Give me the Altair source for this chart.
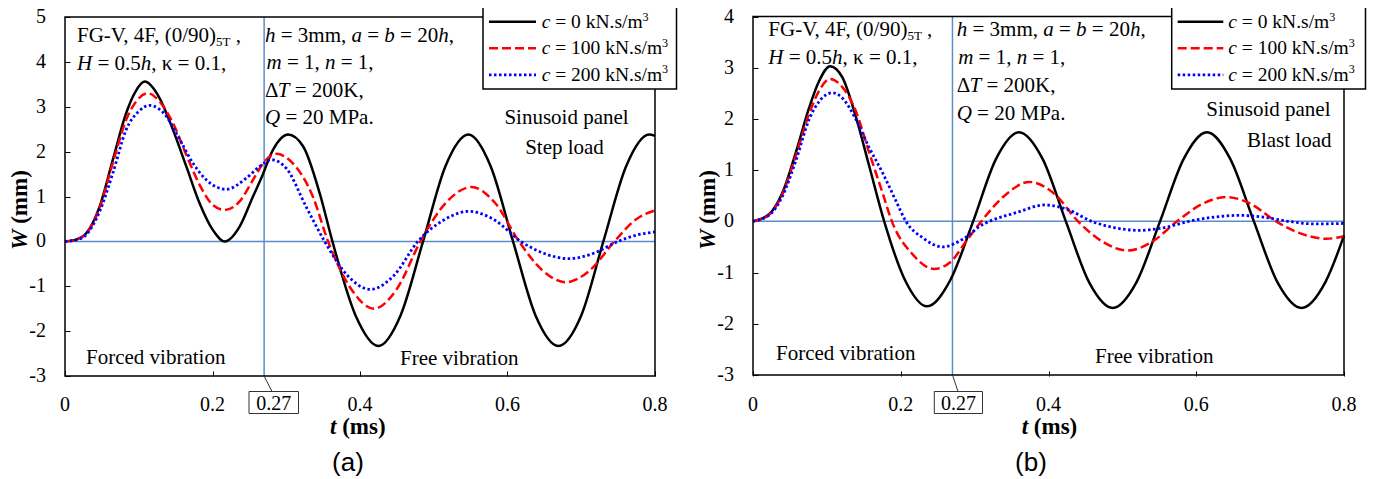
import altair as alt
import pandas as pd

# ---------------- values ----------------
# Panel (a): sinusoid panel, step load
ta_c0 = [0, 0.015, 0.0288, 0.0468, 0.0649, 0.083, 0.095, 0.108, 0.128, 0.1463, 0.1645, 0.1825, 0.2006, 0.2165,
         0.2368, 0.2549, 0.2662, 0.282, 0.3024, 0.3228, 0.3454, 0.3626, 0.394, 0.425, 0.455, 0.4855, 0.516, 0.547,
         0.577, 0.6075, 0.638, 0.669, 0.70, 0.730, 0.761, 0.792, 0.8]
wa_c0 = [0, 0.04, 0.18, 0.77, 1.82, 2.86, 3.32, 3.56, 3.20, 2.49, 1.67, 0.85, 0.25, 0.0,
         0.33, 1.0, 1.41, 2.04, 2.38, 2.12, 1.07, 0.0, -1.65, -2.33, -1.65, 0.0, 1.68, 2.38,
         1.68, 0.0, -1.65, -2.33, -1.65, 0.0, 1.68, 2.38, 2.35]
ta_c100 = [0, 0.015, 0.0288, 0.0468, 0.0649, 0.083, 0.098, 0.1124, 0.128, 0.1463, 0.1645, 0.1825, 0.2006, 0.2165,
           0.2368, 0.2549, 0.2685, 0.2866, 0.309, 0.336, 0.3567, 0.388, 0.419, 0.45, 0.482, 0.5165, 0.551, 0.583,
           0.6156, 0.647, 0.679, 0.712, 0.745, 0.775, 0.8]
wa_c100 = [0, 0.04, 0.17, 0.74, 1.75, 2.71, 3.15, 3.30, 3.12, 2.64, 1.93, 1.26, 0.81, 0.70,
           0.89, 1.37, 1.74, 1.95, 1.74, 1.0, 0.0, -1.06, -1.50, -1.06, 0.0, 0.86, 1.21, 0.86,
           0.0, -0.64, -0.91, -0.64, 0.0, 0.50, 0.69]
ta_c200 = [0, 0.015, 0.0288, 0.0468, 0.0649, 0.083, 0.1, 0.1147, 0.1373, 0.1555, 0.1736, 0.1917, 0.2188, 0.2459,
           0.264, 0.2798, 0.300, 0.327, 0.352, 0.383, 0.414, 0.446, 0.4785, 0.513, 0.548, 0.583, 0.618, 0.65,
           0.683, 0.716, 0.75, 0.775, 0.8]
wa_c200 = [0, 0.03, 0.15, 0.66, 1.52, 2.49, 2.9, 3.03, 2.79, 2.27, 1.74, 1.37, 1.16, 1.41,
           1.67, 1.82, 1.63, 0.77, 0.0, -0.76, -1.07, -0.76, 0.0, 0.47, 0.67, 0.47, 0.0, -0.27,
           -0.385, -0.27, 0.0, 0.14, 0.21]

# Panel (b): sinusoid panel, blast load
tb_c0 = [0, 0.0217, 0.0398, 0.0579, 0.076, 0.0895, 0.1044, 0.121, 0.1393, 0.1573, 0.1776, 0.2065, 0.2355, 0.267,
         0.298, 0.329, 0.360, 0.392, 0.4235, 0.455, 0.487, 0.519, 0.551, 0.583, 0.6145, 0.646, 0.678, 0.710,
         0.7425, 0.775, 0.8]
wb_c0 = [0, 0.14, 0.56, 1.34, 2.22, 2.74, 3.03, 2.81, 2.04, 1.08, 0.0, -1.17, -1.66, -1.15,
         0.0, 1.22, 1.74, 1.22, 0.0, -1.19, -1.69, -1.19, 0.0, 1.22, 1.74, 1.22, 0.0, -1.19,
         -1.69, -1.18, -0.28]
tb_c100 = [0, 0.0217, 0.0398, 0.0579, 0.076, 0.0895, 0.1044, 0.121, 0.1393, 0.1573, 0.1753, 0.188, 0.2165, 0.245,
           0.267, 0.288, 0.309, 0.342, 0.374, 0.407, 0.44, 0.4735, 0.507, 0.54, 0.574, 0.6075, 0.641, 0.6745,
           0.708, 0.742, 0.776, 0.8]
wb_c100 = [0, 0.13, 0.53, 1.28, 2.10, 2.55, 2.78, 2.62, 2.15, 1.34, 0.56, 0.0, -0.65, -0.93,
           -0.80, -0.40, 0.0, 0.52, 0.77, 0.55, 0.0, -0.40, -0.57, -0.40, 0.0, 0.335, 0.475, 0.335,
           0.0, -0.24, -0.34, -0.29]
tb_c200 = [0, 0.0217, 0.0398, 0.0579, 0.076, 0.09, 0.1076, 0.1215, 0.1393, 0.1573, 0.1753, 0.1935, 0.207, 0.2296,
           0.2567, 0.2838, 0.311, 0.32, 0.3562, 0.395, 0.426, 0.4585, 0.49, 0.523, 0.556, 0.59, 0.624, 0.6575,
           0.691, 0.725, 0.76, 0.8]
wb_c200 = [0, 0.12, 0.49, 1.18, 1.99, 2.35, 2.51, 2.40, 1.99, 1.44, 0.95, 0.40, 0.0, -0.32,
           -0.50, -0.35, -0.06, 0.0, 0.17, 0.32, 0.23, 0.0, -0.125, -0.176, -0.125, 0.0, 0.083, 0.117,
           0.083, 0.0, -0.05, -0.04]

c_values = ["0", "100", "200"]
x_ticks = [0, 0.2, 0.4, 0.6, 0.8]
x_tick_labels = ["0", "0.2", "0.4", "0.6", "0.8"]
y_ticks_a = [-3, -2, -1, 0, 1, 2, 3, 4, 5]
y_ticks_b = [-3, -2, -1, 0, 1, 2, 3, 4]
t_switch = 0.27
t_end = 0.8

# ---------------- styling ----------------
SERIF = "Liberation Serif"
SANS = "Liberation Sans"
REF = "#5B8DCB"
COLORS = ["#000000", "#ff0000", "#0000ff"]
DASHES = [None, [9, 4], [2.5, 2.5]]
WIDTHS = [2.5, 2.5, 2.8]

X0, Y0 = 65, 17          # page position of the plot origin
PW, PH = 1279, 359

W_R = {' ': 250, ',': 250, '.': 250, '-': 333, '(': 333, ')': 333, '/': 278, '=': 564,
       'F': 556, 'G': 722, 'V': 722, 'H': 722, 'K': 722, 'M': 889, 'P': 556, 'T': 611, 'S': 556,
       'B': 667, 'N': 722, 'a': 444, 'b': 500, 'c': 444, 'd': 500, 'e': 444, 'h': 500, 'i': 278,
       'k': 500, 'l': 278, 'm': 778, 'n': 500, 'o': 500, 'p': 500, 'r': 333, 's': 389, 't': 278,
       'u': 500, 'v': 500, 'κ': 500, 'Δ': 612}
W_I = {'H': 722, 'h': 500, 'a': 500, 'b': 500, 'm': 722, 'n': 500, 'T': 556, 'Q': 722, 'c': 444}
W_B = {' ': 250, '(': 333, ')': 333, 'm': 833, 's': 389}
W_BI = {'W': 889, 't': 278}
TABLES = {"r": W_R, "sub": W_R, "sup": W_R, "i": W_I, "b": W_B, "bi": W_BI}
KERN = {"V,": -129, "F,": -80}

dummy = pd.DataFrame({"k": [0]})


def tw(s, st):
    tab = TABLES[st]
    tot = 0
    for i, ch in enumerate(s):
        if ch.isdigit():
            tot += 500
        else:
            tot += tab.get(ch, W_R.get(ch, 500))
        if i + 1 < len(s):
            tot += KERN.get(s[i:i + 2], 0)
    return tot / 1000.0


def txt(X, Y, s, size, style="normal", weight="normal", font=SERIF, align="left",
        baseline="alphabetic", angle=0):
    kw = dict(font=font, fontSize=size, fontStyle=style, fontWeight=weight, align=align,
              baseline=baseline, color="black")
    if angle:
        kw["angle"] = angle
    return alt.Chart(dummy).mark_text(**kw).encode(
        x=alt.value(X - X0), y=alt.value(Y - Y0), text=alt.value(s))


def rich(X, Y, parts, size, angle=0):
    out = []
    pos = 0.0
    for s, st in parts:
        fs = size * 0.62 if st in ("sub", "sup") else size
        shift = 0.2 * size if st == "sub" else (-0.36 * size if st == "sup" else 0.0)
        style = "italic" if st in ("i", "bi") else "normal"
        weight = "bold" if st in ("b", "bi") else "normal"
        lead = len(s) - len(s.lstrip(" "))
        core = s.strip(" ")
        off = pos + lead * tw(" ", st) * fs
        if angle == 270:
            px, py = X + shift, Y - off
        else:
            px, py = X + off, Y + shift
        out.append(txt(px, py, core, fs, style, weight, angle=angle))
        pos += tw(s, st) * fs
    return out


def box(x1, y1, x2, y2, stroke="black", sw=1.5):
    return alt.Chart(dummy).mark_rect(fill="white", stroke=stroke, strokeWidth=sw).encode(
        x=alt.value(x1 - X0), x2=alt.value(x2 - X0), y=alt.value(y1 - Y0), y2=alt.value(y2 - Y0))


def seg(x1, y1, x2, y2, color="black", sw=1.0, dash=None):
    kw = dict(color=color, strokeWidth=sw)
    if dash:
        kw["strokeDash"] = dash
    return alt.Chart(dummy).mark_rule(**kw).encode(
        x=alt.value(x1 - X0), x2=alt.value(x2 - X0), y=alt.value(y1 - Y0), y2=alt.value(y2 - Y0))


def panel(p):
    xs = alt.Scale(domain=[0, t_end], range=p["xr"], nice=False, zero=False)
    ys = alt.Scale(domain=p["yd"], range=p["yr"], nice=False, zero=False)
    common = dict(tickSize=5, tickColor="black", tickWidth=1, domain=False, grid=False,
                  labels=False, title=None)
    xaxis = alt.Axis(values=x_ticks, orient="bottom", offset=-5, **common)
    yaxis = alt.Axis(values=p["yticks"], orient="left", offset=-(p["xr"][0] + 5), **common)

    def X(f):
        return alt.X(f, scale=xs, axis=xaxis)

    def Y(f):
        return alt.Y(f, scale=ys, axis=yaxis)

    layers = []
    # reference lines (zero line, switch time)
    href = pd.DataFrame({"t0": [0.0], "t1": [t_end], "w0": [0.0]})
    layers.append(alt.Chart(href).mark_rule(color=REF, strokeWidth=1.5).encode(
        x=X("t0:Q"), x2="t1:Q", y=Y("w0:Q")))
    vref = pd.DataFrame({"ts": [t_switch], "w0": [p["yd"][0]], "w1": [p["yd"][1]]})
    layers.append(alt.Chart(vref).mark_rule(color=REF, strokeWidth=1.5).encode(
        x=X("ts:Q"), y=Y("w0:Q"), y2="w1:Q"))
    # curves
    for (t, w), col, dash, sw in zip(p["series"], COLORS, DASHES, WIDTHS):
        df = pd.DataFrame({"t": t, "w": w})
        kw = dict(color=col, strokeWidth=sw, interpolate="monotone")
        if dash:
            kw["strokeDash"] = dash
        layers.append(alt.Chart(df).mark_line(**kw).encode(x=X("t:Q"), y=Y("w:Q")))
    # frame
    fr = pd.DataFrame({"t0": [0.0], "t1": [t_end], "w0": [p["yd"][0]], "w1": [p["yd"][1]]})
    layers.append(alt.Chart(fr).mark_rect(fillOpacity=0, stroke="black", strokeWidth=1.5).encode(
        x=X("t0:Q"), x2="t1:Q", y=Y("w0:Q"), y2="w1:Q"))

    # tick labels (serif) placed through the panel scales
    xl = pd.DataFrame({"tv": x_ticks, "lab": x_tick_labels})
    layers.append(alt.Chart(xl).mark_text(font=SERIF, fontSize=20, color="black", align="center",
                                          baseline="alphabetic").encode(
        x=X("tv:Q"), y=alt.value(411 - Y0), text="lab:N"))
    yl = pd.DataFrame({"wv": p["yticks"], "lab": [str(v) for v in p["yticks"]]})
    layers.append(alt.Chart(yl).mark_text(font=SERIF, fontSize=20, color="black", align="right",
                                          baseline="middle").encode(
        x=alt.value(p["xr"][0] - 19), y=Y("wv:Q"), text="lab:N"))

    # annotations
    fs = 21
    lx, (lb1, lb2) = p["left_x"], p["left_b"]
    layers += rich(lx, lb1, [("FG-V, 4F, (0/90)", "r"), ("5T", "sub"), (" ,", "r")], fs)
    layers += rich(lx, lb2, [("H", "i"), (" = 0.5", "r"), ("h", "i"), (", κ = 0.1,", "r")], fs)
    rx, rb = p["right_x"], p["right_b"]
    layers += rich(rx, rb[0], [("h", "i"), (" = 3mm, ", "r"), ("a", "i"), (" = ", "r"), ("b", "i"),
                               (" = 20", "r"), ("h", "i"), (",", "r")], fs)
    layers += rich(rx + 1.5, rb[1], [("m", "i"), (" = 1, ", "r"), ("n", "i"), (" = 1,", "r")], fs)
    layers += rich(rx, rb[2], [("Δ", "r"), ("T", "i"), (" = 200K,", "r")], fs)
    layers += rich(rx, rb[3], [("Q", "i"), (" = 20 MPa.", "r")], fs)
    for s, cx, cb in zip(p["case"], p["case_x"], p["case_b"]):
        layers.append(txt(cx, cb, s, fs, align=p["case_align"]))
    layers.append(txt(p["forced"][0], p["forced"][1], "Forced vibration", fs))
    layers.append(txt(p["free"][0], p["free"][1], "Free vibration", fs))

    # legend
    bx1, by1, bx2, by2 = p["leg_box"]
    layers.append(box(bx1, by1, bx2, by2))
    lx1, lx2 = p["leg_line"]
    for i, (cv, col, dash, sw) in enumerate(zip(c_values, COLORS, DASHES, WIDTHS)):
        ly = 21.7 + 26.6 * i
        layers.append(seg(lx1, ly, lx2, ly, color=col, sw=sw, dash=dash))
        layers += rich(p["leg_text_x"], 27.7 + 26.4 * i,
                       [("c", "i"), (" = %s kN.s/m" % cv, "r"), ("3", "sup")], 19.5)

    # switch-time label
    k1, k2, k3, k4 = p["box027"]
    layers.append(seg(*p["lead"], color="#333333", sw=1))
    layers.append(box(k1, k2, k3, k4, stroke="#333333", sw=1))
    layers.append(txt((k1 + k3) / 2, 409.5, "0.27", 20, align="center"))

    # axis titles
    layers += rich(p["tms_x"], 433.5, [("t", "bi"), (" (ms)", "b")], 23)
    layers += rich(p["wmm_x"], 250, [("W", "bi"), (" (mm)", "b")], 23, angle=270)
    # panel label
    layers.append(txt(p["label_x"], 463, p["label"], 26, font=SANS, align="center", baseline="middle"))
    return alt.layer(*layers)


pa = dict(series=[(ta_c0, wa_c0), (ta_c100, wa_c100), (ta_c200, wa_c200)],
          xr=[0, 590], yd=[-3, 5], yr=[359, 0], yticks=y_ticks_a,
          left_x=77, left_b=[41.5, 69.5], right_x=265, right_b=[41.5, 69, 96.5, 123.5],
          case=("Sinusoid panel", "Step load"), case_align="center", case_x=[566.5, 564.5],
          case_b=[123.5, 153.5], forced=(86, 363.5), free=(400, 364.5),
          leg_box=(483, 7, 676.5, 89), leg_line=(489, 536), leg_text_x=541.7,
          box027=(249, 391.5, 298.5, 413.5), lead=(264.1, 376, 272, 391.5),
          tms_x=330, wmm_x=27, label="(a)", label_x=348)

pb = dict(series=[(tb_c0, wb_c0), (tb_c100, wb_c100), (tb_c200, wb_c200)],
          xr=[688, 1279], yd=[-3, 4], yr=[358, -0.5], yticks=y_ticks_b,
          left_x=768.3, left_b=[35.8, 63.5], right_x=956.7, right_b=[35.8, 63.5, 91.5, 119.5],
          case=("Sinusoid panel", "Blast load"), case_align="right", case_x=[1330.5, 1331.5],
          case_b=[115.5, 146.5], forced=(776, 360), free=(1095, 363),
          leg_box=(1171.7, 7, 1365.5, 89), leg_line=(1177.7, 1223.3), leg_text_x=1228.3,
          box027=(934.3, 391.5, 982.5, 413.5), lead=(952.5, 375, 958, 391.5),
          tms_x=1021.7, wmm_x=715, label="(b)", label_x=1031)

chart = alt.layer(panel(pa), panel(pb)).resolve_scale(
    x="independent", y="independent"
).properties(
    width=PW, height=PH,
    padding={"left": 57, "top": 9, "right": 23, "bottom": 101},
    autosize=alt.AutoSizeParams(type="none"),
).configure_view(
    stroke="transparent"
)

chart.save("out.html", embed_options={"renderer": "svg", "actions": False})
